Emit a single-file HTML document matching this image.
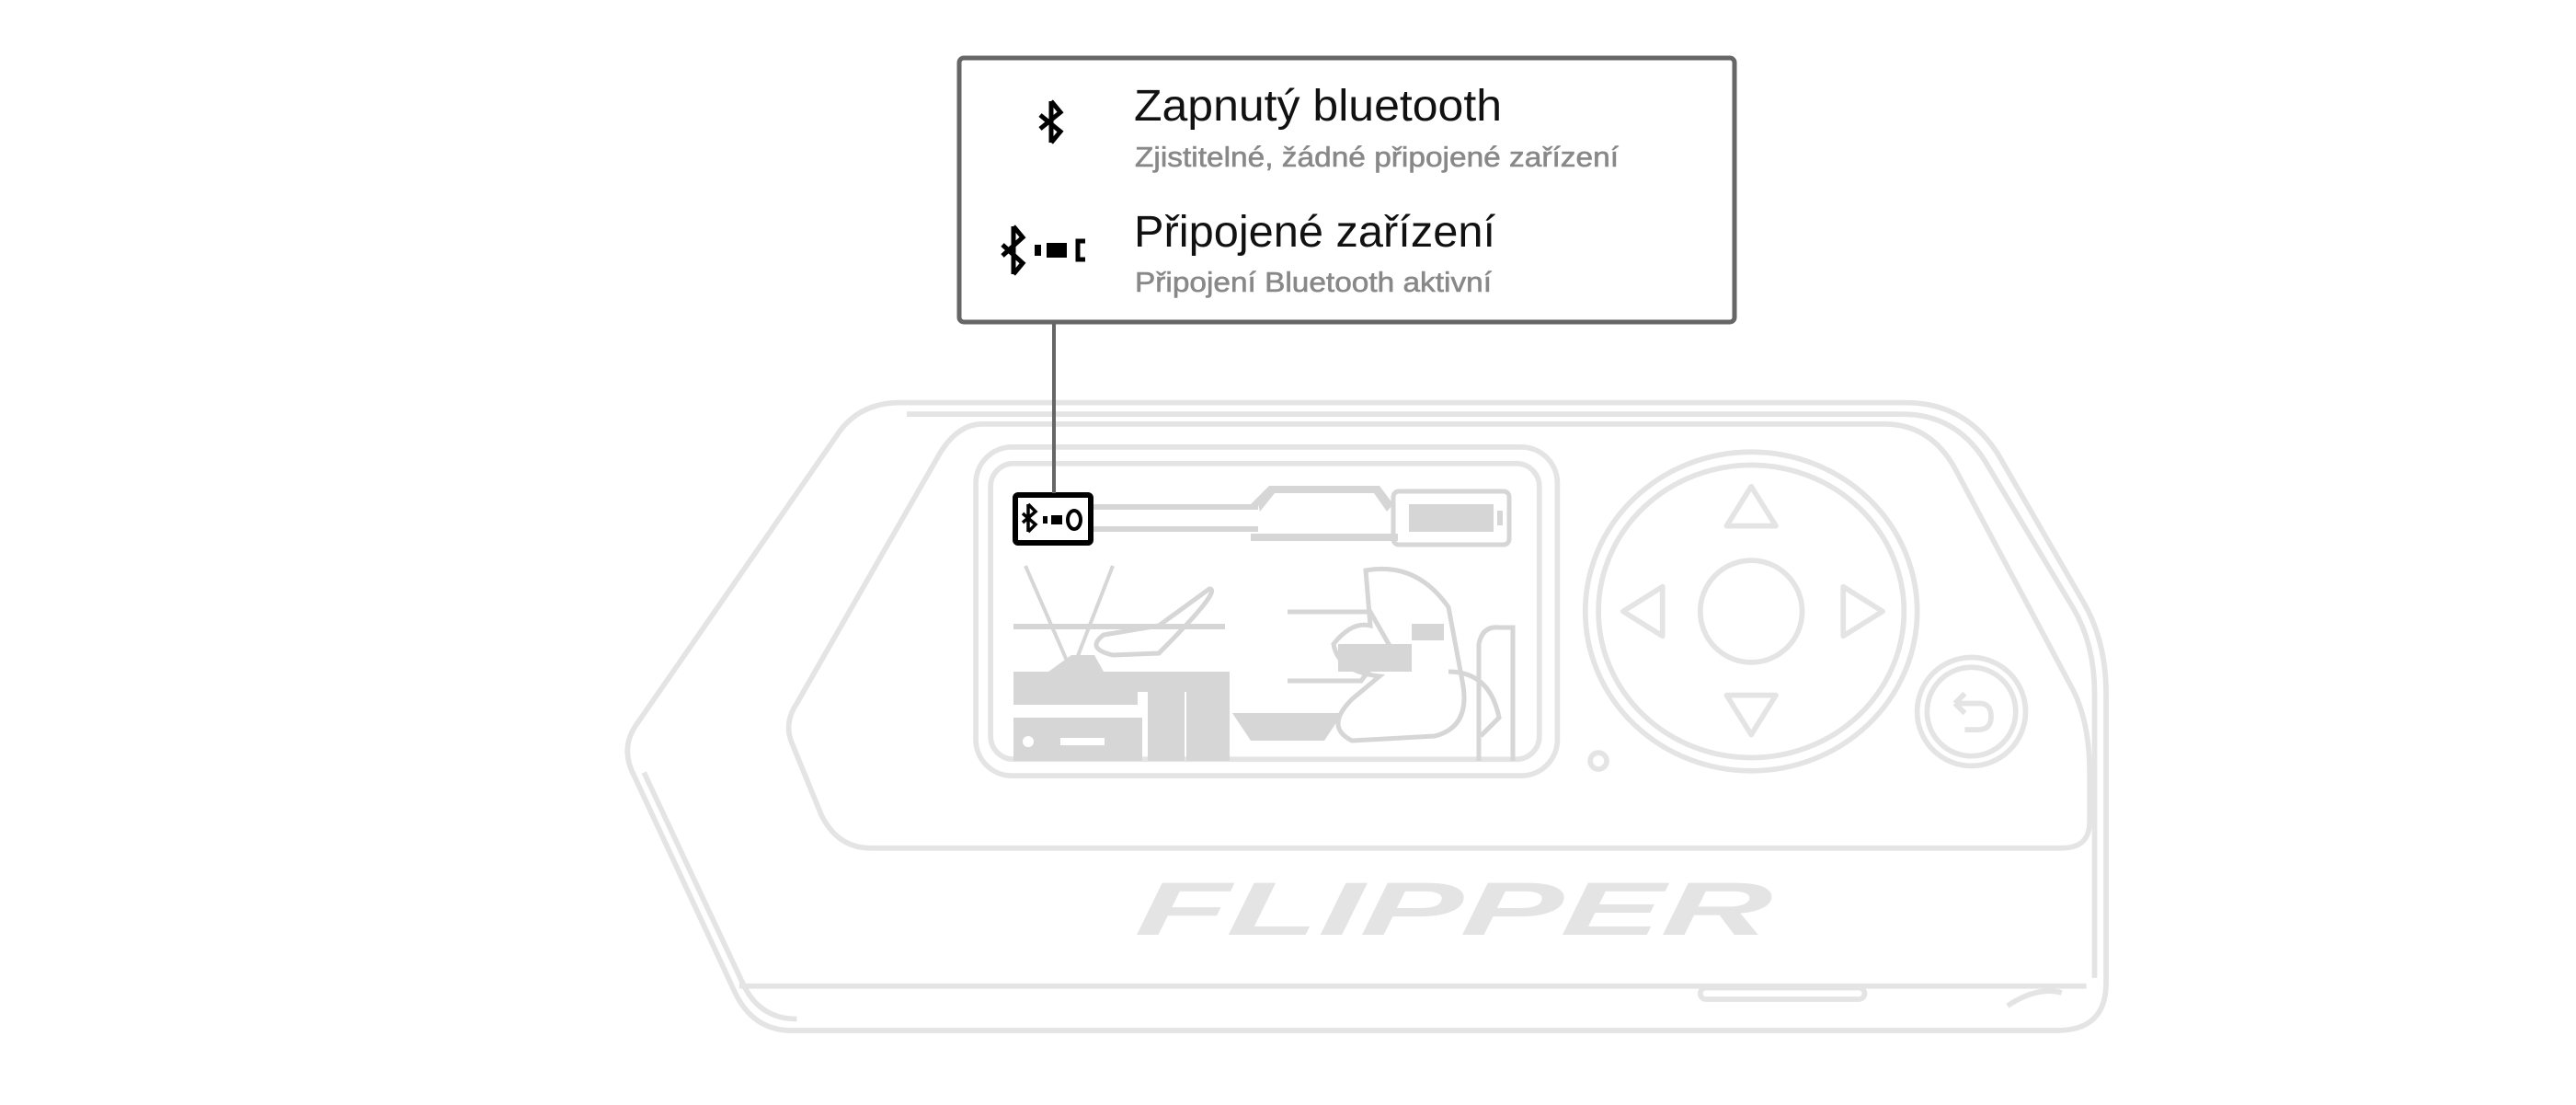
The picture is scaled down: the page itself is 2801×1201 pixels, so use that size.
<!DOCTYPE html>
<html><head><meta charset="utf-8"><style>
html,body{margin:0;padding:0;background:#fff;}
svg{display:block;}
</style></head><body>
<svg width="2801" height="1201" viewBox="0 0 2801 1201" xmlns="http://www.w3.org/2000/svg">
<rect width="2801" height="1201" fill="#fff"/>
<g transform="scale(1.7863)" fill="none" stroke="#e4e4e4" stroke-width="3.2" stroke-linejoin="round">
  <path d="M548,245 L1160,245 Q1196,245 1216,276 L1268,366 Q1282,390 1282,422 L1282,598 Q1282,627 1252,627 L482,627 Q458,627 447,603 L386,472 Q377,455 388,440 L510,264 Q523,245 548,245 Z"/>
  <path d="M552,252 L1158,252 Q1190,252 1208,280 L1262,370 Q1275,392 1275,422 L1275,595"/>
  <path d="M392,470 L452,598 Q462,620 485,620"/>
  <path d="M450,600 L1270,600"/>
  <path d="M598,258 L1147,258 Q1175,258 1190,285 L1262,420 Q1272,440 1272,470 L1272,500 Q1272,516 1255,516 L530,516 Q510,516 500,496 L482,452 Q477,440 485,428 L572,276 Q583,258 598,258 Z"/>
  <rect x="594" y="272" width="354" height="200" rx="22"/>
  <rect x="603" y="282" width="334" height="180" rx="14"/>
  <ellipse cx="1066" cy="372" rx="101" ry="97"/>
  <ellipse cx="1066" cy="372" rx="93" ry="89"/>
  <circle cx="1066" cy="372" r="31"/>
  <path d="M1066,296 L1081,320 L1051,320 Z"/>
  <path d="M1066,447 L1081,423 L1051,423 Z"/>
  <path d="M988,372 L1012,357 L1012,387 Z"/>
  <path d="M1146,372 L1122,357 L1122,387 Z"/>
  <circle cx="1200" cy="433" r="33"/>
  <circle cx="1200" cy="433" r="27"/>
  <path d="M1190,428 L1205,428 Q1212,428 1212,436 Q1212,444 1204,444 L1196,444 M1190,428 L1196,422 M1190,428 L1196,434"/>
  <circle cx="973" cy="463" r="5"/>
  <rect x="1035" y="601" width="100" height="7" rx="3.5"/>
  <path d="M1222,612 Q1240,600 1255,604"/>
</g>
<text x="1235" y="1016" font-family="Liberation Sans, sans-serif" font-size="82" font-weight="bold" font-style="italic" fill="#e4e4e4" textLength="690" lengthAdjust="spacingAndGlyphs" transform="skewX(-6) translate(105,0)">FLIPPER</text>

<g fill="#d6d6d6" stroke="none">
  <rect x="1188" y="548" width="180" height="6"/>
  <rect x="1188" y="572" width="180" height="6"/>
  <path d="M1368,548 L1360,548 L1380,528 L1500,528 L1515,548 L1508,556 L1494,536 L1386,536 L1370,556 Z"/>
  <rect x="1360" y="580" width="160" height="8"/>
  <rect x="1515" y="534" width="126" height="58" rx="6" fill="none" stroke="#d6d6d6" stroke-width="5"/>
  <rect x="1532" y="548" width="92" height="30"/>
  <rect x="1628" y="555" width="6" height="16"/>
  <path d="M1115,615 L1160,718 M1210,615 L1170,718" stroke="#d6d6d6" stroke-width="4" fill="none"/>
  <rect x="1102" y="678" width="230" height="6"/>
  <path d="M1140,730 L1165,712 L1190,712 L1200,730 Z"/>
  <rect x="1102" y="730" width="235" height="22"/>
  <rect x="1102" y="752" width="135" height="14"/>
  <rect x="1102" y="780" width="140" height="47"/>
  <rect x="1248" y="752" width="40" height="75"/>
  <rect x="1290" y="730" width="47" height="97"/>
  <rect x="1153" y="802" width="48" height="8" fill="#fff"/>
  <circle cx="1118" cy="806" r="6" fill="#fff"/>
  <path d="M1340,775 L1460,775 L1440,805 L1360,805 Z"/>
  <path d="M1485,620 Q1540,610 1575,660 L1590,740 Q1600,790 1560,800 L1470,805 Q1440,790 1470,760 L1500,735 Q1455,730 1450,700 Q1470,675 1490,680 Z" fill="none" stroke="#d6d6d6" stroke-width="5"/>
  <rect x="1455" y="700" width="80" height="30"/>
  <rect x="1535" y="678" width="35" height="18"/>
  <path d="M1260,710 Q1330,640 1315,640 L1260,680 L1200,690 Q1180,705 1210,712 Z" fill="none" stroke="#d6d6d6" stroke-width="5"/>
  <path d="M1400,665 L1490,665 L1510,700 L1480,740 L1400,740" fill="none" stroke="#d6d6d6" stroke-width="5"/>
  <path d="M1608,827 L1608,700 Q1612,680 1630,682 L1645,682 L1645,827" fill="none" stroke="#d6d6d6" stroke-width="5"/>
  <path d="M1575,730 Q1620,730 1630,780 L1610,800" fill="none" stroke="#d6d6d6" stroke-width="5"/>
</g>

<rect x="1104" y="538" width="82" height="52" rx="3" fill="#fff" stroke="#000" stroke-width="6"/>
<g fill="#000">
  <path d="M1118,548 l0,30 M1118,548 l8,8 l-14,12 M1118,578 l8,-8 l-14,-12" stroke="#000" stroke-width="3.5" fill="none"/>
  <rect x="1134" y="561" width="5" height="8"/>
  <rect x="1143" y="560" width="12" height="10"/>
  <ellipse cx="1168" cy="565" rx="7" ry="10" fill="none" stroke="#000" stroke-width="4"/>
</g>

<line x1="1146" y1="350" x2="1146" y2="536" stroke="#666" stroke-width="4"/>

<rect x="1043" y="63" width="843" height="287" rx="5" fill="#fff" stroke="#666" stroke-width="5"/>
<g stroke="#000" stroke-width="5" fill="none">
  <path d="M1143,110 L1143,155 M1143,110 l10,12 l-22,18 M1143,155 l10,-12 l-22,-18"/>
  <path d="M1102,246 L1102,298 M1102,246 l10,12 l-22,20 M1102,298 l10,-12 l-22,-20"/>
</g>
<rect x="1125" y="266" width="7" height="12" fill="#000"/>
<rect x="1138" y="264" width="22" height="16" fill="#000"/>
<path d="M1180,262 l-8,0 l0,20 l8,0" stroke="#000" stroke-width="5" fill="none"/>

<g font-family="Liberation Sans, sans-serif">
  <text x="1233" y="131" font-size="48" fill="#111" textLength="400" lengthAdjust="spacingAndGlyphs">Zapnutý bluetooth</text>
  <text x="1234" y="181" font-size="31" fill="#888" stroke="#888" stroke-width="0.6" textLength="526" lengthAdjust="spacingAndGlyphs">Zjistitelné, žádné připojené zařízení</text>
  <text x="1233" y="268" font-size="48" fill="#111" textLength="393" lengthAdjust="spacingAndGlyphs">Připojené zařízení</text>
  <text x="1234" y="317" font-size="31" fill="#888" stroke="#888" stroke-width="0.6" textLength="388" lengthAdjust="spacingAndGlyphs">Připojení Bluetooth aktivní</text>
</g>
</svg>
</body></html>
